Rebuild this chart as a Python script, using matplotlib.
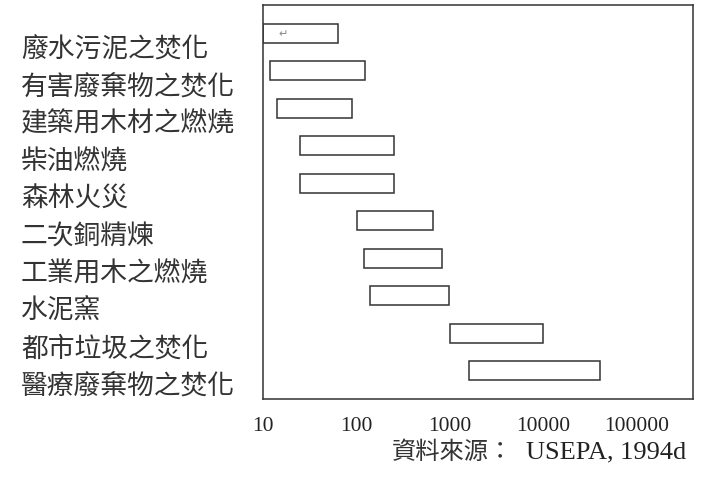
import matplotlib.pyplot as plt
from matplotlib.transforms import blended_transform_factory

# 排放係數範圍 (USEPA, 1994d)
sources = ['廢水污泥之焚化', '有害廢棄物之焚化', '建築用木材之燃燒', '柴油燃燒', '森林火災',
           '二次銅精煉', '工業用木之燃燒', '水泥窯', '都市垃圾之焚化', '醫療廢棄物之焚化']
low = [10, 12, 14, 25, 25, 100, 120, 140, 1000, 1600]
high = [63, 122, 90, 250, 250, 660, 830, 980, 10000, 40000]
ticks = [10, 100, 1000, 10000, 100000]
tick_labels = ['10', '100', '1000', '10000', '100000']

fig = plt.figure(figsize=(7.25, 4.85), dpi=100)
ax = fig.add_axes([0.3628, 0.1753, 0.9559 - 0.3628, 0.9876 - 0.1753])

y = list(range(len(sources)))
widths = [h - l for l, h in zip(low, high)]
ax.barh(y, widths, left=low, height=0.51, color='white', edgecolor='#333333', linewidth=1.1)

ax.set_xscale('log')
ax.set_xlim(10, 10 ** 5.6)
ax.set_ylim(9.76, -0.76)
ax.set_xticks(ticks, tick_labels, family='Liberation Serif', fontsize=15.5, color='#222222')
ax.minorticks_off()
ax.tick_params(axis='x', length=0, pad=12)
ax.set_yticks([])
for s in ax.spines.values():
    s.set_color('#333333')
    s.set_linewidth(1.1)

trans = blended_transform_factory(ax.transAxes, ax.transData)
for i, name in enumerate(sources):
    ax.text(-0.563, i + 0.4, name, transform=trans, ha='left', va='center',
            fontsize=19.3, family=['Noto Sans CJK TC', 'DejaVu Sans'], color='#333333')

# Word 的段落標記
ax.text(0.047, 0, '↵', transform=trans, ha='center', va='center', fontsize=8, color='#888888')

# 資料來源
fig.text(392 / 725, 1 - 452 / 485, '資料來源：', ha='left', va='center',
         fontsize=17.5, family=['Noto Sans CJK TC', 'DejaVu Sans'], color='#333333')
fig.text(686 / 725, 1 - 452 / 485, 'USEPA, 1994d', ha='right', va='center',
         fontsize=19, family='Liberation Serif', color='#222222')

fig.savefig('out.png', dpi=100)
